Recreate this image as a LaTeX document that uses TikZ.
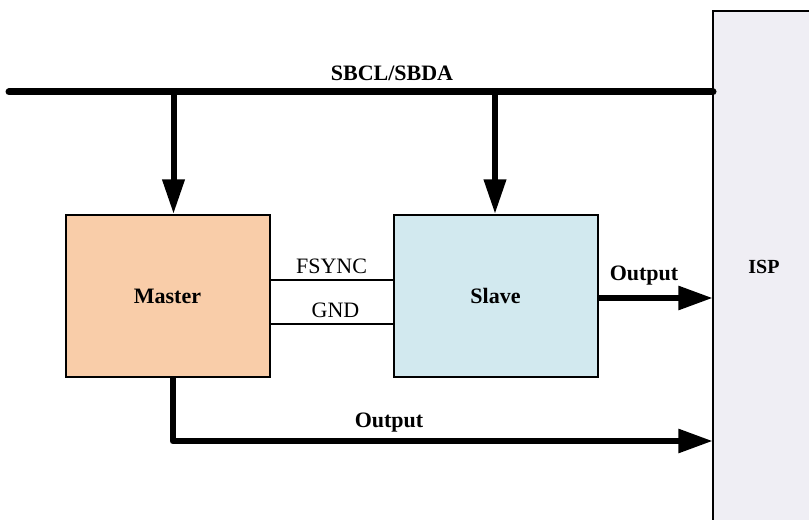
\documentclass[tikz,border=0pt]{standalone}
\usepackage{fontspec}
\setmainfont{Liberation Serif}
\usetikzlibrary{arrows.meta}
\definecolor{masterfill}{HTML}{F9CDA9}
\definecolor{slavefill}{HTML}{D2E9EF}
\definecolor{ispfill}{HTML}{EFEEF4}
\begin{document}
\begin{tikzpicture}[x=0.75pt,y=-0.75pt,
  every node/.style={font=\fontsize{16.5}{18}\selectfont},
  block/.style={draw,line width=1.5pt,minimum width=153pt,minimum height=121.5pt,font=\fontsize{16.5}{18}\selectfont\bfseries},
  busarrow/.style={line width=4.5pt,-{Triangle[length=26pt,width=16pt]}},
  outarrow/.style={line width=5pt,-{Triangle[length=26pt,width=17pt]}},
  wire/.style={line width=1.5pt}]
\useasboundingbox (0,0) rectangle (810,520);
\clip (0,0) rectangle (810,520);
\fill[ispfill] (713,11) rectangle (809,530);
\coordinate (busL) at (9,92);
\coordinate (busR) at (713,92);
\draw[line width=5.25pt,line cap=round] (busL) -- (busR);
\draw[line width=1.5pt] (713,530) -- (713,11) -- (809,11);
\node[font=\fontsize{15}{18}\selectfont\bfseries] (isp) at (764,267) {ISP};
\node[font=\fontsize{16.5}{18}\selectfont\bfseries] (bus) at (392,73) {SBCL/SBDA};
\node[block,fill=masterfill] (master) at (167.5,296) {Master};
\node[block,fill=slavefill] (slave) at (495.5,296) {Slave};
\coordinate (mtop) at (173.5,92);
\coordinate (stop) at (495,92);
\draw[busarrow] (mtop) -- (mtop |- master.north);
\draw[busarrow] (stop) -- (stop |- slave.north);
\draw[wire] (master.east |- 0,280) -- (slave.west |- 0,280) node[midway,above=1pt] {FSYNC};
\draw[wire] (master.east |- 0,324) -- (slave.west |- 0,324) node[midway,above=1pt,xshift=3pt] {GND};
\coordinate (sout) at (713,298);
\draw[outarrow] (slave.east |- sout) -- (sout);
\node[font=\fontsize{16.5}{18}\selectfont\bfseries] (o1) at (644,276) {Output};
\coordinate (mout) at (173,441);
\coordinate (iout) at (713,441);
\draw[outarrow,line join=round] (mout |- master.south) -- (mout) -- (iout);
\node[font=\fontsize{16.5}{18}\selectfont\bfseries] (o2) at (389,423) {Output};
\end{tikzpicture}
\end{document}
